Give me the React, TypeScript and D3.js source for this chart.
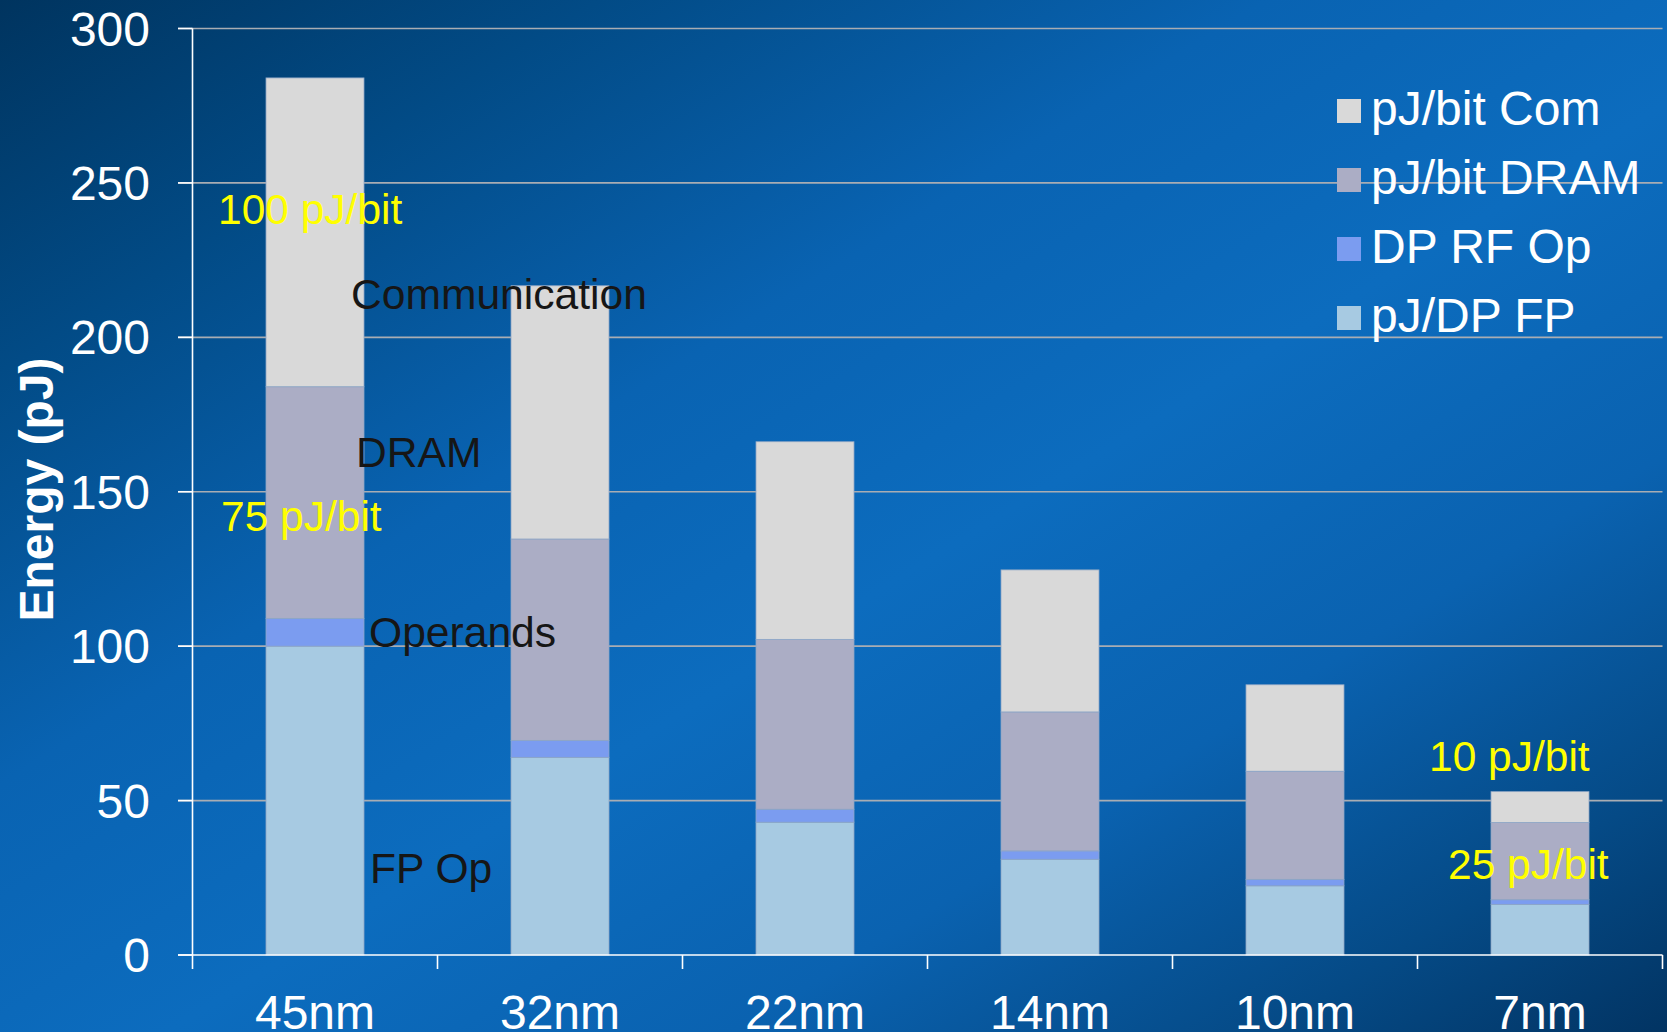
import React from "react";
import * as d3 from "d3";

const categories = ["45nm", "32nm", "22nm", "14nm", "10nm", "7nm"];
const fpOp = [100, 64, 43, 31, 22.4, 16.4];
const rfOp = [9, 5.5, 4.2, 2.7, 2.1, 1.5];
const dram = [75, 65.2, 55, 45, 35, 25];
const com = [100, 82, 64, 46, 28, 10];
const seriesNames = ["pJ/DP FP", "DP RF Op", "pJ/bit DRAM", "pJ/bit Com"];
const seriesColors = ["#a7cae2", "#7b9cf0", "#abadc5", "#d9d9d9"];
const yTicks = [0, 50, 100, 150, 200, 250, 300];

const W = 1667;
const H = 1032;
const FONT = "'Liberation Sans', Arial, Helvetica, sans-serif";

export default function App() {
  const x = d3
    .scaleBand<string>()
    .domain(categories)
    .range([192.5, 1662.5])
    .paddingInner(0.6)
    .paddingOuter(0.3);
  const y = d3.scaleLinear().domain([0, 300]).range([955, 28.5]);

  const rows = categories.map((c, i) => ({
    cat: c,
    s0: fpOp[i],
    s1: rfOp[i],
    s2: dram[i],
    s3: com[i],
  }));
  const stack = d3.stack<any>().keys(["s0", "s1", "s2", "s3"])(rows);

  const step = x.step();
  const boundaries = d3.range(categories.length + 1).map((i) => 192.5 + i * step);

  const legendOrder = [3, 2, 1, 0];

  return (
    <svg
      width={W}
      height={H}
      style={{ position: "absolute", left: 0, top: 0, display: "block" }}
      fontFamily={FONT}
    >
      <defs>
        <linearGradient id="bg" x1="0" y1="0" x2="1" y2="1">
          <stop offset="0" stopColor="#00345f" />
          <stop offset="0.18" stopColor="#024b86" />
          <stop offset="0.38" stopColor="#0963b2" />
          <stop offset="0.55" stopColor="#0c6cbe" />
          <stop offset="0.72" stopColor="#0a62b0" />
          <stop offset="0.88" stopColor="#054a86" />
          <stop offset="1" stopColor="#023463" />
        </linearGradient>
      </defs>
      <rect x={0} y={0} width={W} height={H} fill="url(#bg)" />

      {/* gridlines */}
      {yTicks.slice(1).map((t) => (
        <line
          key={"g" + t}
          x1={178}
          x2={1662.5}
          y1={y(t)}
          y2={y(t)}
          stroke="#a9adb3"
          strokeWidth={1.6}
        />
      ))}

      {/* bars */}
      {stack.map((layer, si) =>
        layer.map((d, i) => (
          <rect
            key={si + "-" + i}
            x={x(categories[i])!}
            width={x.bandwidth()}
            y={y(d[1])}
            height={y(d[0]) - y(d[1])}
            fill={seriesColors[si]}
            stroke="#8ea6c6"
            strokeWidth={0.8}
          />
        ))
      )}

      {/* axes */}
      <line x1={192.5} x2={192.5} y1={y(300)} y2={y(0)} stroke="#ffffff" strokeWidth={1.6} />
      {yTicks.map((t) => (
        <g key={"yt" + t}>
          <line x1={178} x2={192.5} y1={y(t)} y2={y(t)} stroke="#ffffff" strokeWidth={1.6} />
          <text
            x={150}
            y={y(t)}
            dy="0.355em"
            textAnchor="end"
            fill="#ffffff"
            fontSize={48}
          >
            {t}
          </text>
        </g>
      ))}
      <line x1={178} x2={1662.5} y1={y(0)} y2={y(0)} stroke="#ffffff" strokeWidth={1.6} />
      {boundaries.map((b, i) => (
        <line key={"xt" + i} x1={b} x2={b} y1={y(0)} y2={969} stroke="#ffffff" strokeWidth={1.6} />
      ))}
      {categories.map((c) => (
        <text
          key={"xl" + c}
          x={x(c)! + x.bandwidth() / 2}
          y={1029}
          textAnchor="middle"
          fill="#ffffff"
          fontSize={48}
        >
          {c}
        </text>
      ))}

      {/* y axis title */}
      <text
        transform={`translate(53,489.5) rotate(-90)`}
        textAnchor="middle"
        fill="#ffffff"
        fontSize={48}
        fontWeight="bold"
      >
        Energy (pJ)
      </text>

      {/* legend */}
      {legendOrder.map((si, k) => (
        <g key={"lg" + si} transform={`translate(1337,${99 + k * 69})`}>
          <rect x={0} y={0} width={24} height={24} fill={seriesColors[si]} />
          <text x={34} y={26} fill="#ffffff" fontSize={48}>
            {seriesNames[si]}
          </text>
        </g>
      ))}

      {/* annotations */}
      <g fontSize={42.5} fill="#ffff00">
        <text x={218} y={224}>100 pJ/bit</text>
        <text x={221} y={531}>75 pJ/bit</text>
        <text x={1429} y={771}>10 pJ/bit</text>
        <text x={1448} y={879}>25 pJ/bit</text>
      </g>
      <g fontSize={42.6} fill="#161616">
        <text x={351} y={309}>Communication</text>
        <text x={356} y={467}>DRAM</text>
        <text x={369} y={647}>Operands</text>
        <text x={370} y={883}>FP Op</text>
      </g>
    </svg>
  );
}
